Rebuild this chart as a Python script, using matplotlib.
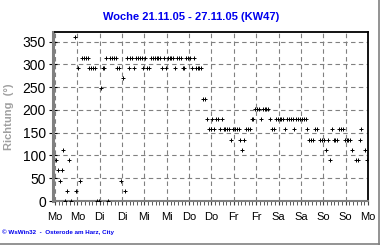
import matplotlib
matplotlib.use('Agg')
import matplotlib.pyplot as plt
import numpy as np

plt.rcParams['font.family'] = ['Liberation Sans', 'DejaVu Sans']

n = np.nan
# Windrichtung, stuendlich (Grad), eine Liste pro Tag
mo = [90, 67.5, 45, 67.5, 112.5, 0, 22.5, 90, 0, n, 360, 22.5,
      292.5, 45, 315, 315, 315, 315, 292.5, 292.5, 292.5, 292.5, 0, 0]
di = [247.5, 292.5, 292.5, 315, 0, 315, 315, 315, 315, 292.5, 292.5, 45,
      270, 22.5, 315, 292.5, 315, 315, 292.5, 315, 315, 315, 315, 292.5]
mi = [315, 292.5, 292.5, 315, 315, 315, 315, 315, 315, 292.5, 315, 292.5,
      315, 315, 315, 315, 292.5, 315, 315, 315, 292.5, 292.5, 315, 315]
do = [315, 292.5, 315, 292.5, 292.5, 292.5, 292.5, 225, 225, 180, 157.5, 157.5,
      180, 157.5, 180, 180, 157.5, 180, 157.5, 157.5, 157.5, 157.5, 135, 157.5]
fr = [157.5, 157.5, 157.5, 135, 112.5, 135, 157.5, 157.5, 157.5, 180, 180, 202.5,
      202.5, 202.5, 180, 202.5, 202.5, 202.5, 202.5, 180, 157.5, 157.5, 180, 180]
sa = [180, 180, 180, 157.5, 180, 180, 180, 180, 157.5, 180, 180, 180,
      180, 180, 180, 157.5, 135, 135, 135, 157.5, 157.5, n, 135, 135]
so = [135, 112.5, 135, 90, 157.5, 135, 135, 135, 157.5, 157.5, 157.5, 135,
      135, 135, 135, 112.5, n, 90, 90, 135, 157.5, n, 112.5, 90]

tage = ['Mo', 'Mo', 'Di', 'Di', 'Mi', 'Mi', 'Do', 'Do',
        'Fr', 'Fr', 'Sa', 'Sa', 'So', 'So', 'Mo']
y_ticks = [0, 50, 100, 150, 200, 250, 300, 350]

richtung = np.array(mo + di + mi + do + fr + sa + so, dtype=float)
stunde = np.arange(len(richtung)) + 0.5

fig = plt.figure(figsize=(3.8, 2.45), dpi=100)
ax = fig.add_axes([55/380, 44/245, 313/380, 169/245])

ax.plot(stunde, richtung, linestyle='none', marker='+', color='black',
        markersize=2.6, markeredgewidth=0.7, zorder=3)

ax.set_xlim(0, 168)
ax.set_ylim(0, 371)
ax.set_xticks(np.arange(0, 169, 12))
ax.set_xticklabels(tage, fontsize=8)
ax.set_xticks(np.arange(0, 169, 2), minor=True)
ax.set_yticks(y_ticks)
ax.set_yticklabels([str(v) for v in y_ticks], fontsize=8)

ax.grid(True, which='major', color='#808080', linestyle=(0, (4, 3)), linewidth=0.8)
ax.set_axisbelow(True)

# Achsen
ax.spines['top'].set_color('black')
ax.spines['top'].set_linewidth(1.3)
ax.spines['right'].set_color('black')
ax.spines['right'].set_linewidth(1.3)
ax.spines['left'].set_color('#808080')
ax.spines['left'].set_linewidth(2.2)
ax.spines['left'].set_position(('outward', 1.5))
ax.spines['bottom'].set_color('#808080')
ax.spines['bottom'].set_linewidth(1.5)

ax.tick_params(axis='y', direction='inout', length=6, width=0.8, color='black', pad=2)
ax.tick_params(axis='x', which='major', direction='out', length=3, width=0.8,
               color='#404040', pad=5)
ax.tick_params(axis='x', which='minor', direction='out', length=3, width=0.6,
               color='#404040')

ax.set_ylabel('Richtung  (°)', fontsize=8, fontweight='bold', color='#a0a0a0',
              labelpad=6)

fig.text(0.503, 1 - 17/245, 'Woche 21.11.05 - 27.11.05 (KW47)', ha='center',
         va='center', fontsize=8, fontweight='bold', color='#0000ee')
fig.text(2/380, 1 - 232/245, '© WsWin32  -  Osterode am Harz, City', ha='left',
         va='center', fontsize=4.5, fontweight='bold', color='#0000ee')

# grauer Rahmen rechts und unten
fig.add_artist(plt.Line2D([378.5/380, 378.5/380], [0, 1], color='#808080', linewidth=1.2))
fig.add_artist(plt.Line2D([0, 1], [1.5/245, 1.5/245], color='#808080', linewidth=1.2))

fig.savefig('out.png', dpi=100)
